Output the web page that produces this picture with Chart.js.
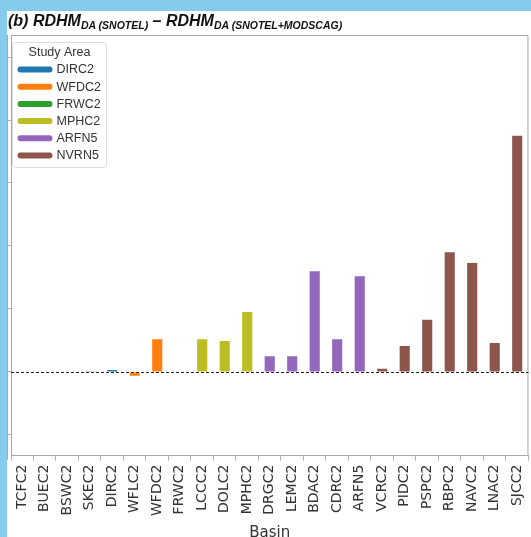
<!DOCTYPE html>
<html lang="en">
<head>
<meta charset="UTF-8">
<title>RDHM DA difference by basin</title>
<script src="https://cdn.jsdelivr.net/npm/chart.js"></script>
<style>
    html, body {
        margin: 0;
        padding: 0;
        width: 531px;
        height: 537px;
        overflow: hidden;
        background: #85cbeb;
    }
    .panel {
        position: absolute;
        left: 7px;
        top: 11px;
        width: 531px;
        height: 535px;
        background: #fff;
    }
    .title {
        position: absolute;
        left: 1px;
        top: 1px;
        font-family: 'Liberation Sans', Arial, sans-serif;
        font-weight: bold;
        font-style: italic;
        font-size: 16px;
        color: #111;
        white-space: nowrap;
        z-index: 2;
    }
    .title sub {
        font-size: 10.5px;
        vertical-align: -3px;
    }
    #chart {
        position: absolute;
        left: 0;
        top: 0;
    }
</style>
</head>
<body>
<div class="panel">
    <div class="title">(b) RDHM<sub>DA (SNOTEL)</sub> – RDHM<sub>DA (SNOTEL+MODSCAG)</sub></div>
    <canvas id="chart" width="531" height="535"></canvas>
</div>
<script>
// basins along the x axis
const basins = ['TCFC2', 'BUEC2', 'BSWC2', 'SKEC2', 'DIRC2', 'WFLC2', 'WFDC2', 'FRWC2',
    'LCCC2', 'DOLC2', 'MPHC2', 'DRGC2', 'LEMC2', 'BDAC2', 'CDRC2', 'ARFN5',
    'VCRC2', 'PIDC2', 'PSPC2', 'RBPC2', 'NAVC2', 'LNAC2', 'SJCC2'];

// difference per basin (y units unknown)
const diffValues = [0, 0, 0.005, 0.01, 0.03, -0.06, 0.52, 0,
    0.52, 0.49, 0.95, 0.25, 0.25, 1.6, 0.52, 1.52,
    0.05, 0.41, 0.83, 1.9, 1.73, 0.46, 3.75];

// study area of each basin
const basinArea = ['DIRC2', 'DIRC2', 'DIRC2', 'DIRC2', 'DIRC2', 'WFDC2', 'WFDC2', 'FRWC2',
    'MPHC2', 'MPHC2', 'MPHC2', 'ARFN5', 'ARFN5', 'ARFN5', 'ARFN5', 'ARFN5',
    'NVRN5', 'NVRN5', 'NVRN5', 'NVRN5', 'NVRN5', 'NVRN5', 'NVRN5'];

const studyAreas = ['DIRC2', 'WFDC2', 'FRWC2', 'MPHC2', 'ARFN5', 'NVRN5'];
const areaColors = ['#1f77b4', '#ff7f0e', '#2ca02c', '#bcbd22', '#9467bd', '#8c564b'];

const yTicks = [-1, 0, 1, 2, 3, 4, 5];

const barColors = basinArea.map(a => areaColors[studyAreas.indexOf(a)]);

// frame, zero line and the "Study Area" legend
const extras = {
    id: 'extras',
    afterDraw(chart) {
        const ctx = chart.ctx;
        const area = chart.chartArea;
        const y = chart.scales.y;
        ctx.save();

        // top / right spines
        ctx.strokeStyle = '#a8a8a8';
        ctx.lineWidth = 1;
        ctx.beginPath();
        ctx.moveTo(area.left, area.top + 0.5);
        ctx.lineTo(area.right - 0.5, area.top + 0.5);
        ctx.lineTo(area.right - 0.5, area.bottom);
        ctx.moveTo(0.5, area.top);
        ctx.lineTo(0.5, area.bottom + 4);
        ctx.stroke();

        // dashed zero line
        const y0 = Math.round(y.getPixelForValue(0)) + 0.5;
        ctx.strokeStyle = '#222';
        ctx.setLineDash([3, 2]);
        ctx.beginPath();
        ctx.moveTo(area.left, y0);
        ctx.lineTo(area.right, y0);
        ctx.stroke();
        ctx.setLineDash([]);

        // legend box
        const lx = area.left + 1.5, ly = area.top + 7.5, lw = 94, lh = 125;
        ctx.fillStyle = 'rgba(255,255,255,0.9)';
        ctx.strokeStyle = '#dddddd';
        ctx.beginPath();
        ctx.roundRect(lx, ly, lw, lh, 3);
        ctx.fill();
        ctx.stroke();

        ctx.font = '12.5px "Liberation Sans", Arial, sans-serif';
        ctx.fillStyle = '#333';
        ctx.textBaseline = 'middle';
        ctx.textAlign = 'center';
        ctx.fillText('Study Area', lx + lw / 2, ly + 10);
        ctx.textAlign = 'left';
        studyAreas.forEach((name, i) => {
            const cy = ly + 27 + i * 17.2;
            ctx.strokeStyle = areaColors[i];
            ctx.lineWidth = 6;
            ctx.lineCap = 'round';
            ctx.beginPath();
            ctx.moveTo(lx + 8, cy);
            ctx.lineTo(lx + 37, cy);
            ctx.stroke();
            ctx.fillText(name, lx + 44, cy + 0.5);
        });
        ctx.restore();
    }
};

new Chart(document.getElementById('chart'), {
    type: 'bar',
    data: {
        labels: basins,
        datasets: [{
            data: diffValues,
            backgroundColor: barColors,
            borderWidth: 0,
            barPercentage: 0.45,
            categoryPercentage: 1
        }]
    },
    options: {
        responsive: false,
        animation: false,
        layout: { padding: { top: 24, right: 0, left: 0, bottom: 0 } },
        plugins: {
            legend: { display: false },
            tooltip: { enabled: false }
        },
        scales: {
            x: {
                grid: { drawOnChartArea: false, tickLength: 5, color: '#b0b0b0' },
                border: { color: '#a8a8a8' },
                ticks: {
                    minRotation: 90,
                    maxRotation: 90,
                    padding: 4,
                    color: '#333',
                    font: { family: 'DejaVu Sans', size: 14 }
                },
                title: {
                    display: true,
                    text: 'Basin',
                    color: '#333',
                    padding: { top: 4, bottom: 4 },
                    font: { family: 'DejaVu Sans', size: 15 }
                }
            },
            y: {
                min: -1.33,
                max: 5.35,
                afterBuildTicks(axis) {
                    axis.ticks = yTicks.map(v => ({ value: v }));
                },
                grid: { drawOnChartArea: false, tickLength: 4, color: '#b0b0b0' },
                border: { color: '#a8a8a8' },
                ticks: { display: false }
            }
        }
    },
    plugins: [extras]
});
</script>
</body>
</html>
